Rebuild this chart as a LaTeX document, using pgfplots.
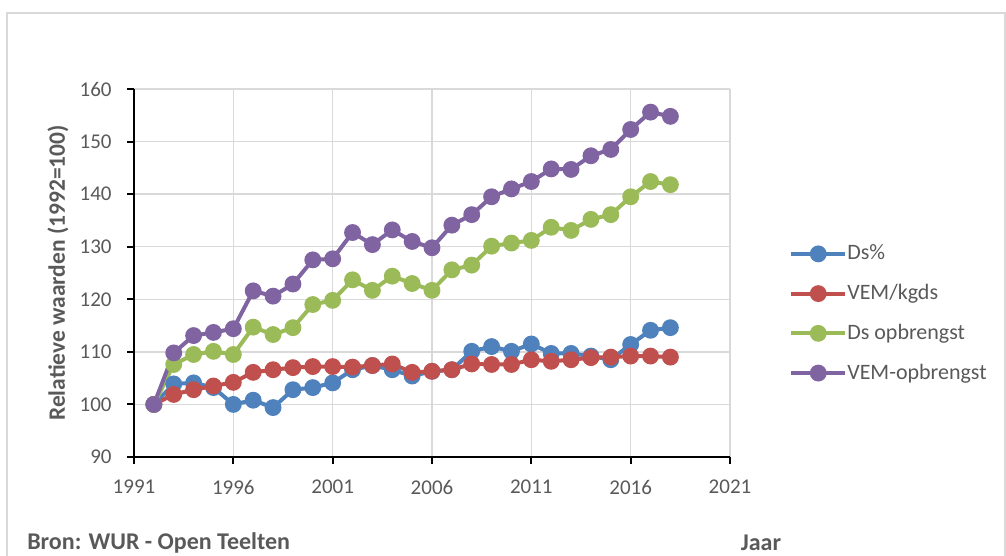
\documentclass[border=0pt]{standalone}
\usepackage{pgfplots}
\pgfplotsset{compat=1.18}
\usepackage{pgfplotstable}
\usepackage{fontspec}
\setmainfont{Carlito}

\definecolor{dsblue}{HTML}{4F81BD}
\definecolor{vemred}{HTML}{C0504D}
\definecolor{dsgreen}{HTML}{9BBB59}
\definecolor{vempurple}{HTML}{8064A2}
\definecolor{txtgray}{HTML}{595959}
\definecolor{gridgray}{HTML}{D9D9D9}

% jaar, Ds%, VEM/kgds, Ds opbrengst, VEM-opbrengst (1992=100)
\pgfplotstableread{
jaar  ds     vem    dsopb  vemopb
1992  100.0  100.0  100.0  100.0
1993  103.9  101.9  107.6  109.8
1994  104.1  102.8  109.5  113.1
1995  103.2  103.5  110.1  113.7
1996  100.0  104.2  109.5  114.4
1997  100.8  106.1  114.7  121.6
1998   99.4  106.6  113.3  120.6
1999  102.8  107.0  114.6  122.9
2000  103.2  107.2  119.0  127.5
2001  104.1  107.2  119.8  127.7
2002  106.6  107.1  123.7  132.7
2003  107.4  107.4  121.7  130.4
2004  106.6  107.7  124.4  133.2
2005  105.4  106.1  123.0  131.0
2006  106.3  106.3  121.7  129.8
2007  106.6  106.6  125.6  134.1
2008  110.1  107.7  126.5  136.1
2009  111.0  107.6  130.1  139.5
2010  110.1  107.6  130.7  141.0
2011  111.5  108.5  131.2  142.4
2012  109.7  108.2  133.7  144.8
2013  109.7  108.5  133.1  144.7
2014  109.2  108.9  135.2  147.3
2015  108.5  109.0  136.1  148.5
2016  111.4  109.2  139.5  152.3
2017  114.1  109.2  142.4  155.6
2018  114.6  109.0  141.8  154.8
}\datatable

\begin{document}
\begin{tikzpicture}
\useasboundingbox (0,0) rectangle (754.5pt,417pt);
% kader
\draw[gridgray, line width=1.5pt] (5.25pt,-3pt) -- (5.25pt,407.25pt) -- (753.75pt,407.25pt) -- (753.75pt,-3pt);

\begin{axis}[
  at={(100.5pt,74.25pt)}, anchor=south west,
  scale only axis, width=447pt, height=276pt,
  xmin=1991, xmax=2021, ymin=90, ymax=160,
  xtick={1991,1996,...,2021}, ytick={90,100,...,160},
  x tick label style={/pgf/number format/1000 sep={}},
  /pgf/number format/assume math mode=true,
  ticklabel style={font=\fontsize{15.75}{18}\selectfont, text=txtgray},
  yticklabel style={xshift=-8pt},
  xticklabel style={yshift=-8.5pt},
  axis x line*=bottom, axis y line*=left,
  axis line style={black, line width=1.5pt},
  tick align=outside, major tick length=5.25pt,
  tick style={black, line width=1.5pt},
  grid=major, major grid style={gridgray, line width=1.1pt},
  ylabel={Relatieve waarden (1992=100)},
  ylabel style={at={(axis description cs:-0.1275,0.5)}, anchor=center,
    font=\fontsize{17.6}{20}\selectfont\bfseries, text=txtgray},
  xlabel={Jaar},
  xlabel style={at={(axis description cs:1.052,-0.234)}, anchor=center,
    font=\fontsize{18}{21}\selectfont\bfseries, text=txtgray},
  every axis plot/.append style={line width=3pt, mark=*, mark size=4.8pt},
  legend image code/.code={
    \draw[#1, mark=none] (0pt,0pt) -- (40.5pt,0pt);
    \draw[#1, only marks] plot coordinates {(20.25pt,0pt)};
  },
  legend style={at={(axis description cs:1.099,0.39)}, anchor=west,
    draw=none, fill=none, inner sep=0pt, row sep=14.8pt,
    font=\fontsize{16.5}{19}\selectfont, text=txtgray,
    nodes={inner sep=0pt, text height=12pt, text depth=3pt},
    /tikz/every even column/.append style={column sep=1.5pt}},
  legend cell align=left,
  clip=false,
]
\addplot[color=dsblue] table[x=jaar, y=ds] {\datatable};
\addlegendentry{Ds\%}
\addplot[color=vemred] table[x=jaar, y=vem] {\datatable};
\addlegendentry{VEM/kgds}
\addplot[color=dsgreen] table[x=jaar, y=dsopb] {\datatable};
\addlegendentry{Ds opbrengst}
\addplot[color=vempurple] table[x=jaar, y=vemopb] {\datatable};
\addlegendentry{VEM-opbrengst}
\end{axis}

\node[anchor=west, inner sep=0pt, text=txtgray, font=\fontsize{18}{21}\selectfont\bfseries]
  at (20.25pt,9.75pt) {Bron: WUR - Open Teelten};
\end{tikzpicture}
\end{document}
